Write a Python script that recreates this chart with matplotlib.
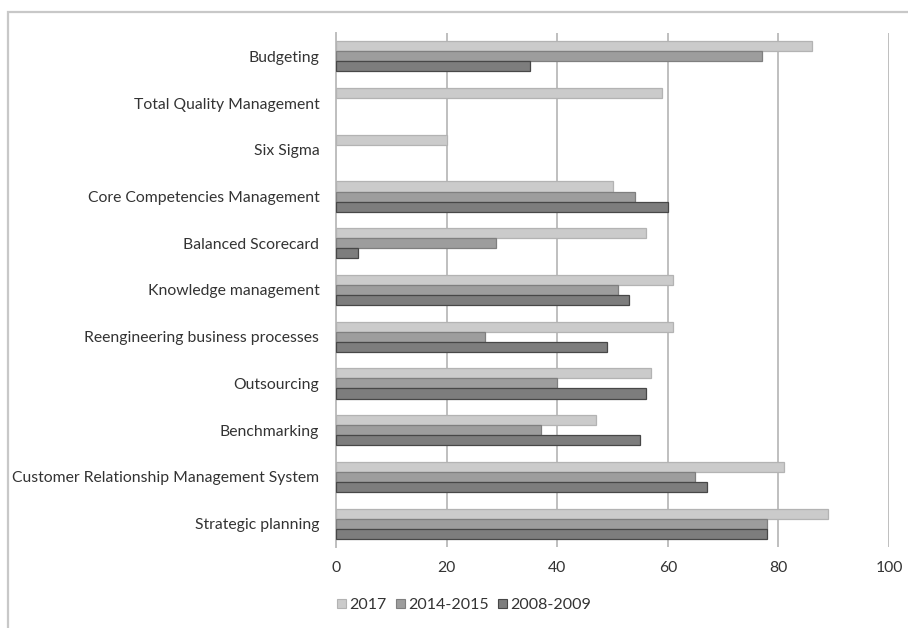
import matplotlib
matplotlib.use("Agg")
import matplotlib.pyplot as plt
from matplotlib.patches import Rectangle, Patch
import numpy as np

plt.rcParams['font.family'] = ['Lato', 'DejaVu Sans']

categories = [
    "Strategic planning",
    "Customer Relationship Management System",
    "Benchmarking",
    "Outsourcing",
    "Reengineering business processes",
    "Knowledge management",
    "Balanced Scorecard",
    "Core Competencies Management",
    "Six Sigma",
    "Total Quality Management",
    "Budgeting",
]
series_names = ["2017", "2014-2015", "2008-2009"]
# None = not surveyed in that period
values_2017 = [89, 81, 47, 57, 61, 61, 56, 50, 20, 59, 86]
values_2014_2015 = [78, 65, 37, 40, 27, 51, 29, 54, None, None, 77]
values_2008_2009 = [78, 67, 55, 56, 49, 53, 4, 60, None, None, 35]
x_ticks = [0, 20, 40, 60, 80, 100]

W, H = 908, 628
fig = plt.figure(figsize=(W / 100, H / 100), dpi=100)

# outer chart frame
fig.patches.append(Rectangle((8 / W, -0.1), 1.2, (H - 12) / H + 0.1,
                             transform=fig.transFigure, fill=False,
                             edgecolor="#c8c8c8", linewidth=1.6))

left, right, top, bottom = 336, 889, 33, 547
ax = fig.add_axes([left / W, (H - bottom) / H, (right - left) / W, (bottom - top) / H])

y = np.arange(len(categories))
bh = 0.215
styles = [
    ("#cbcbcb", "#b3b3b3"),
    ("#9d9d9d", "#7f7f7f"),
    ("#7d7d7d", "#474747"),
]
series = [values_2017, values_2014_2015, values_2008_2009]
offsets = [bh, 0, -bh]
for vals, off, (fc, ec), name in zip(series, offsets, styles, series_names):
    idx = [i for i, v in enumerate(vals) if v is not None]
    ax.barh(y[idx] + off, [vals[i] for i in idx], height=bh, color=fc,
            edgecolor=ec, linewidth=0.9, label=name, zorder=3)

ax.set_xlim(0, 100)
ax.set_ylim(-0.5, len(categories) - 0.5)
ax.set_xticks(x_ticks)
ax.set_yticks(y)
ax.set_yticklabels(categories)
ax.tick_params(axis="both", length=0, labelsize=11.3, colors="#333333")
ax.tick_params(axis="x", pad=10)
ax.tick_params(axis="y", pad=12)
ax.grid(axis="x", color="#bfbfbf", linewidth=1.4, zorder=0)
for s in ["top", "right", "bottom"]:
    ax.spines[s].set_visible(False)
ax.spines["left"].set_color("#bfbfbf")
ax.spines["left"].set_linewidth(1.4)

handles = [Patch(facecolor=fc, edgecolor=ec, linewidth=0.8) for fc, ec in styles]
fig.legend(handles, series_names, loc="center left",
           bbox_to_anchor=(323 / W, (H - 605) / H), ncol=3, frameon=False,
           fontsize=11.5, handlelength=0.55, handleheight=0.55, handletextpad=0.2,
           columnspacing=0.6, labelcolor="#333333")

fig.savefig("out.png", dpi=100)
